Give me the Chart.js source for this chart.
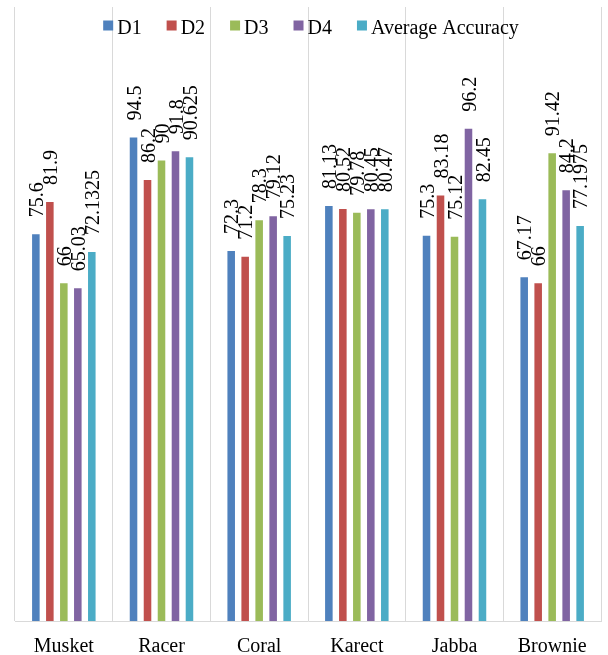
<!DOCTYPE html>
<html>
<head>
<meta charset="utf-8">
<script src="https://cdn.jsdelivr.net/npm/chart.js@4"></script>
<style>
    html, body { margin: 0; padding: 0; background: #fff; }
    #wrap { width: 608px; height: 655px; }
</style>
</head>
<body>
<div id="wrap"><canvas id="myChart"></canvas></div>
<script>
const datasets = ['Musket', 'Racer', 'Coral', 'Karect', 'Jabba', 'Brownie'];

const d1 = [75.6, 94.5, 72.3, 81.13, 75.3, 67.17];
const d2 = [81.9, 86.2, 71.2, 80.52, 83.18, 66];
const d3 = [66, 90, 78.3, 79.78, 75.12, 91.42];
const d4 = [65.03, 91.8, 79.12, 80.45, 96.2, 84.2];
const averageAccuracy = [72.1325, 90.625, 75.23, 80.47, 82.45, 77.1975];

const seriesNames = ['D1', 'D2', 'D3', 'D4', 'Average Accuracy'];
const seriesColors = ['#4F81BD', '#C0504D', '#9BBB59', '#8064A2', '#4BACC6'];

const serif = "'Liberation Serif', 'Times New Roman', serif";

// value labels, rotated, sitting just above each bar
const barLabels = {
    id: 'barLabels',
    afterDatasetsDraw(chart) {
        const ctx = chart.ctx;
        ctx.save();
        ctx.font = '20px ' + serif;
        ctx.fillStyle = '#000';
        ctx.textAlign = 'left';
        ctx.textBaseline = 'middle';
        chart.data.datasets.forEach((ds, i) => {
            const meta = chart.getDatasetMeta(i);
            meta.data.forEach((bar, j) => {
                ctx.save();
                ctx.translate(bar.x + 2, bar.y - 17);
                ctx.rotate(-Math.PI / 2);
                ctx.fillText(String(ds.data[j]), 0, 0);
                ctx.restore();
            });
        });
        ctx.restore();
    }
};

// legend drawn over the top of the plot area
const topLegend = {
    id: 'topLegend',
    afterDraw(chart) {
        const ctx = chart.ctx;
        const area = chart.chartArea;
        ctx.save();
        ctx.font = '20px ' + serif;
        ctx.textBaseline = 'alphabetic';
        const box = 10, textGap = 4, itemGap = 25;
        const widths = chart.data.datasets.map(ds => box + textGap + ctx.measureText(ds.label).width);
        const total = widths.reduce((a, b) => a + b, 0) + itemGap * (widths.length - 1);
        let x = (area.left + area.right) / 2 - total / 2 + 3;
        chart.data.datasets.forEach((ds, i) => {
            ctx.fillStyle = ds.backgroundColor;
            ctx.fillRect(x, 20.5, box, box);
            ctx.fillStyle = '#000';
            ctx.fillText(ds.label, x + box + textGap, 34);
            x += widths[i] + itemGap;
        });
        ctx.restore();
    }
};

const seriesData = [d1, d2, d3, d4, averageAccuracy];

const ctx = document.getElementById('myChart').getContext('2d');
window.myChart = new Chart(ctx, {
    type: 'bar',
    data: {
        labels: datasets,
        datasets: seriesNames.map((name, i) => ({
            label: name,
            data: seriesData[i],
            backgroundColor: seriesColors[i],
            borderWidth: 0,
            categoryPercentage: 0.716,
            barPercentage: 0.54
        }))
    },
    options: {
        responsive: true,
        maintainAspectRatio: false,
        animation: false,
        layout: {
            padding: { left: 15, right: 7, top: 7, bottom: 0 }
        },
        scales: {
            x: {
                grid: {
                    offset: true,
                    color: '#D9D9D9',
                    lineWidth: 1,
                    drawTicks: false
                },
                border: { color: '#D9D9D9' },
                ticks: {
                    color: '#000',
                    padding: 14,
                    font: { family: serif, size: 20 }
                },
                afterFit(scale) {
                    scale.height = 34;
                }
            },
            y: {
                display: false,
                min: 0,
                max: 120
            }
        },
        plugins: {
            legend: { display: false },
            tooltip: { enabled: false }
        }
    },
    plugins: [barLabels, topLegend]
});
</script>
</body>
</html>
